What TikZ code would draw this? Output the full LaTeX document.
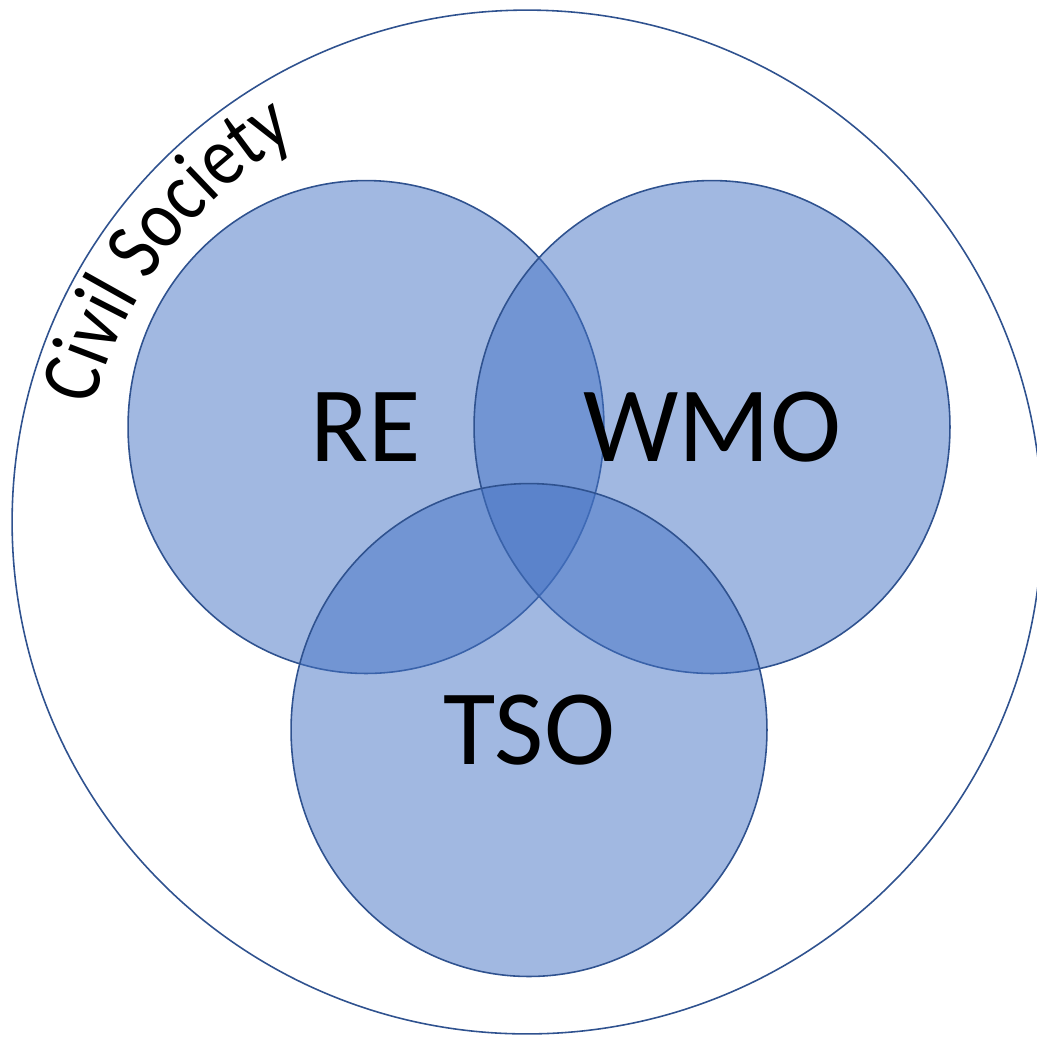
\documentclass[tikz,border=0pt]{standalone}
\usepackage{fontspec}
\setmainfont{Carlito}
\newfontfamily\arcfont[FakeStretch=0.85]{Carlito}
\usepackage{xcolor}
\usepackage{tikz}
\definecolor{setblue}{HTML}{4472C4}
\definecolor{setedge}{HTML}{2F528F}
\usetikzlibrary{shapes.geometric, decorations.text}

\begin{document}
\begin{tikzpicture}[
    x=0.02cm, y=-0.02cm,
    setcircle/.style={ellipse, draw=setedge, line width=0.9pt, fill=setblue, fill opacity=0.5, text opacity=1, minimum width=9.52cm, minimum height=9.86cm, inner sep=0pt, font=\fontsize{61}{62}\selectfont},
    society/.style={ellipse, draw=setedge, line width=0.9pt, minimum width=20.6cm, minimum height=20.48cm, inner sep=0pt}
]
    \useasboundingbox (0,0) rectangle (1037,1036);

    % Civil society around everything
    \node[society] (civil) at (527,522) {};

    % Sets
    \node[setcircle] (re) at (366,427) {RE};
    \node[setcircle] (wmo) at (712,427) {WMO};
    \node[setcircle] (tso) at (529,730) {TSO};

    % Curved label
    \path[decorate, decoration={text along path, text align=center, text={|\arcfont\fontsize{48}{48}\selectfont|Civil Society}}]
        ([shift={(-170:449)}]civil.center) arc[start angle=-170, end angle=-116, radius=449];

\end{tikzpicture}
\end{document}
